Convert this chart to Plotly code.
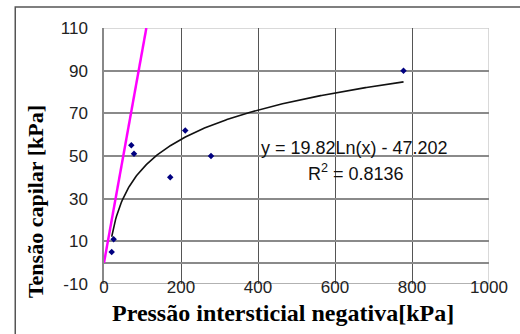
import numpy as np
import plotly.graph_objects as go

# Data
pressao = [20, 25, 71, 78, 172, 211, 278, 778]        # kPa (x)
tensao = [5, 11, 55, 51, 40, 62, 50, 90]               # kPa (y)

# Logarithmic trendline coefficients shown on the chart
TREND_A = 19.82
TREND_B = -47.202
trend_label = "y = 19.82Ln(x) - 47.202"
r2_label = "R<sup>2</sup> = 0.8136"

# 1:1 reference line
line11_x = [0, 110]
line11_y = [0, 110]

x_ticks = [0, 200, 400, 600, 800, 1000]
y_ticks = [-10, 10, 30, 50, 70, 90, 110]

x_title = "Pressão intersticial negativa[kPa]"
y_title = "Tensão capilar [kPa]"

trend_x = np.linspace(min(pressao), max(pressao), 300)
trend_y = TREND_A * np.log(trend_x) + TREND_B

fig = go.Figure()
fig.add_trace(go.Scatter(x=trend_x, y=trend_y, mode="lines",
                         line=dict(color="#111111", width=1.6), hoverinfo="skip"))
fig.add_trace(go.Scatter(x=line11_x, y=line11_y, mode="lines",
                         line=dict(color="#ff00ff", width=2.5)))
fig.add_trace(go.Scatter(x=pressao, y=tensao, mode="markers",
                         marker=dict(symbol="diamond", size=5, color="#000080")))

fig.update_layout(
    width=520, height=334,
    margin=dict(l=104, r=25, t=28, b=50),
    paper_bgcolor="white", plot_bgcolor="white",
    showlegend=False, hovermode=False,
    font=dict(family="Liberation Sans, Arial", color="#222222"),
)
fig.update_xaxes(
    range=[0, 1000], tickvals=x_ticks, ticktext=[str(v) for v in x_ticks],
    anchor="free", position=0.035,
    showgrid=True, gridcolor="#555555", gridwidth=1,
    zeroline=False, showline=False,
    ticks="", tickfont=dict(size=17, color="#222222"),
)
fig.update_yaxes(
    range=[-10, 110], tickvals=y_ticks, ticktext=[str(v) for v in y_ticks],
    domain=[0, 1],
    showgrid=True, gridcolor="#8a8a8a", gridwidth=1.5,
    zeroline=True, zerolinecolor="#8a8a8a", zerolinewidth=1.5,
    showline=True, linecolor="#888888", linewidth=1.5,
    ticks="outside", ticklen=11, tickcolor="rgba(0,0,0,0)",
    tickfont=dict(size=17, color="#222222"),
)

# Plot-area border: bottom axis line (grey), top and right (light grey), outer frame
fig.add_shape(type="line", xref="x", yref="y", x0=0, x1=1000, y0=-10, y1=-10,
              line=dict(color="#999999", width=1.5), layer="below")
fig.add_shape(type="line", xref="x", yref="y", x0=0, x1=1000, y0=110, y1=110,
              line=dict(color="#cccccc", width=1.5), layer="below")
fig.add_shape(type="line", xref="x", yref="y", x0=1000, x1=1000, y0=-10, y1=110,
              line=dict(color="#cccccc", width=1.5), layer="below")
fig.add_shape(type="rect", xref="paper", yref="paper",
              x0=-0.2305, x1=1.2, y0=-0.4, y1=1.082,
              line=dict(color="#555555", width=1.5), fillcolor="rgba(0,0,0,0)")

fig.add_annotation(x=(358 - 104) / 391, y=(284 - 148) / 256, xref="paper", yref="paper",
                   xanchor="center", yanchor="middle",
                   text=trend_label, showarrow=False,
                   font=dict(family="Liberation Sans, Arial", size=18, color="#111111"))
fig.add_annotation(x=(360 - 104) / 391, y=(284 - 172) / 256, xref="paper", yref="paper",
                   xanchor="center", yanchor="middle",
                   text=r2_label, showarrow=False,
                   font=dict(family="Liberation Sans, Arial", size=18, color="#111111"))

fig.add_annotation(x=(286 - 104) / 391, y=-(313 - 284) / 256, xref="paper", yref="paper",
                   xanchor="center", yanchor="middle",
                   text="<b>" + x_title + "</b>", showarrow=False,
                   font=dict(family="Liberation Serif, Times New Roman", size=24, color="#000000"))
fig.add_annotation(x=-(104 - 34) / 391, y=(284 - 202) / 256, xref="paper", yref="paper",
                   xanchor="center", yanchor="middle",
                   text="<b>" + y_title + "</b>", showarrow=False, textangle=-90,
                   font=dict(family="Liberation Serif, Times New Roman", size=22, color="#000000"))

fig.write_html("out.html", config={"displayModeBar": False},
               post_script="document.body.style.margin='0';")
